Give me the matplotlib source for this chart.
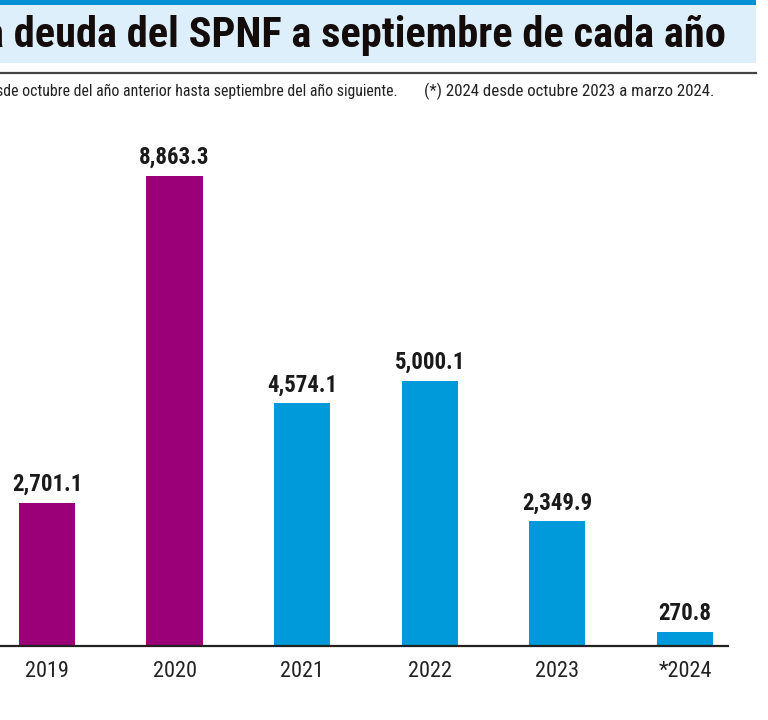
import matplotlib.pyplot as plt
from matplotlib.patches import Rectangle
from matplotlib.lines import Line2D

# Data
years = ['2019', '2020', '2021', '2022', '2023', '*2024']
deuda = [2701.1, 8863.3, 4574.1, 5000.1, 2349.9, 270.8]
colores = ['#9C0078', '#9C0078', '#0099D9', '#0099D9', '#0099D9', '#0099D9']

title = 'a deuda del SPNF a septiembre de cada año'
nota_izq = 'sde octubre del año anterior hasta septiembre del año siguiente.'
nota_der = '(*) 2024 desde octubre 2023 a marzo 2024.'

FONT = 'Roboto Condensed'

W, H = 768, 720
fig = plt.figure(figsize=(W / 100, H / 100), dpi=100)
fig.patch.set_facecolor('white')

def fx(px):
    return px / W

def fy(py):
    return 1 - py / H

# header: dark blue strip, light blue band, gray rule
fig.patches.append(Rectangle((0, fy(5)), fx(756), 5 / H, transform=fig.transFigure,
                             facecolor='#0090D4', edgecolor='none'))
fig.patches.append(Rectangle((0, fy(63)), fx(756), 58 / H, transform=fig.transFigure,
                             facecolor='#DDEFFA', edgecolor='none'))
fig.lines.append(Line2D([0, fx(756)], [fy(73), fy(73)], transform=fig.transFigure,
                        color='#444444', linewidth=1.6))

fig.text(fx(726), fy(35), title, ha='right', va='center', fontsize=30.5,
         fontweight=900, family=FONT, color='#140c0a')
fig.text(fx(398), fy(91), nota_izq, ha='right', va='center', fontsize=11.4,
         family=FONT, color='#222222')
fig.text(fx(424), fy(91), nota_der, ha='left', va='center', fontsize=12.2,
         family=FONT, color='#222222')

# bar chart
ax = fig.add_axes([0, fy(646), fx(728), (646 - 150) / H])
x = range(len(years))
ax.bar(x, deuda, width=0.44, color=colores)
ax.set_xlim(-0.368, 5.337)
ax.set_ylim(0, 9353)
for i, v in enumerate(deuda):
    ax.text(i, v + 130, f'{v:,.1f}', ha='center', va='bottom', fontsize=16.5,
            fontweight='bold', family=FONT, color='#1a1a1a')

ax.set_xticks(list(x))
ax.set_xticklabels(years, fontsize=16, family=FONT, color='#222222')
ax.tick_params(axis='x', length=0, pad=11)
ax.set_yticks([])
for s in ['top', 'right', 'left']:
    ax.spines[s].set_visible(False)
ax.spines['bottom'].set_linewidth(1.6)
ax.spines['bottom'].set_color('#222222')

fig.savefig('out.png', dpi=100)
